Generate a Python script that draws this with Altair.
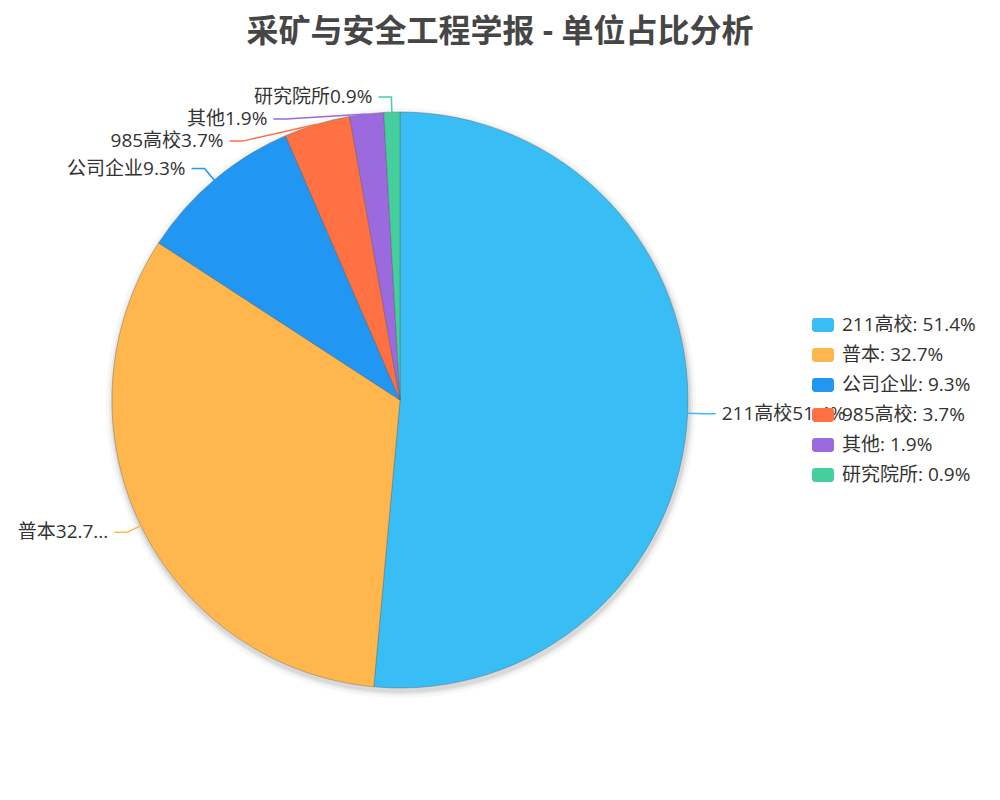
import altair as alt
import pandas as pd
import numpy as np

categories = ["211高校", "普本", "公司企业", "985高校", "其他", "研究院所"]
shares = [51.4, 32.7, 9.3, 3.7, 1.9, 0.9]
colors = ["#38BDF5", "#FFB74D", "#2196F3", "#FF7043", "#9B6ADE", "#45CF9D"]
title_text = "采矿与安全工程学报 - 单位占比分析"

FONT = "Open Sans, Noto Sans CJK SC"
FS = 19
W, H = 984, 718
PAD_TOP = 66
CX, CY = 392, 326
R = 288
R1 = R + 15
L2 = 13
GAP = 6
MIN_DY = 22
LEFT_EDGE = 8


def est_width(s, fs=FS):
    w = 0.0
    for ch in s:
        if ord(ch) > 0x2E80:
            w += 1.0
        elif ch == "%":
            w += 0.9
        elif ch in ".: ":
            w += 0.3
        else:
            w += 0.6
    return w * fs


total = sum(shares)
cum = np.cumsum([0] + shares[:-1])
mid = [(c + s / 2) / total * 2 * np.pi for c, s in zip(cum, shares)]

rows = []
for i, (cat, s, a) in enumerate(zip(categories, shares, mid)):
    side = "right" if np.sin(a) >= 0 else "left"
    rows.append(dict(idx=i, cat=cat, share=s, side=side,
                     x0=CX + R * np.sin(a), y0=CY - R * np.cos(a),
                     x1=CX + R1 * np.sin(a), y1=CY - R1 * np.cos(a)))

for side in ["left", "right"]:
    grp = sorted([r for r in rows if r["side"] == side], key=lambda r: r["y1"])
    prev = None
    for r in grp:
        if prev is not None and r["y1"] < prev + MIN_DY:
            r["y1"] = prev + MIN_DY
            dy = r["y1"] - CY
            dx = np.sqrt(max(R1 ** 2 - dy ** 2, 0))
            r["x1"] = CX + dx if side == "right" else CX - dx
        prev = r["y1"]

for r in rows:
    sg = 1 if r["side"] == "right" else -1
    r["x2"] = r["x1"] + sg * L2
    r["tx"] = r["x2"] + sg * GAP
    full = f"{r['cat']}{r['share']}%"
    avail = (r["tx"] - LEFT_EDGE) if sg < 0 else 1e9
    r["label"] = full if est_width(full) <= avail else full[:-1] + "..."
    r["legend"] = f"{r['cat']}: {r['share']}%"

legend_labels = [f"{c}: {s}%" for c, s in zip(categories, shares)]
slices = pd.DataFrame({"idx": range(len(categories)), "legend": legend_labels, "share": shares})
labels = pd.DataFrame(rows)

pts = []
for r in rows:
    for k, (x, y) in enumerate([(r["x0"], r["y0"]), (r["x1"], r["y1"]), (r["x2"], r["y1"])]):
        pts.append(dict(legend=r["legend"], k=k, x=x, y=y))
lines = pd.DataFrame(pts)

sym = ("M-0.727,-0.636 H0.727 A0.273,0.273 0 0 1 1,-0.364 V0.364 A0.273,0.273 0 0 1 0.727,0.636 "
       "H-0.727 A0.273,0.273 0 0 1 -1,0.364 V-0.364 A0.273,0.273 0 0 1 -0.727,-0.636 Z")

color_scale = alt.Scale(domain=legend_labels, range=colors)
xs = alt.Scale(domain=[0, W], nice=False, zero=False)
ys = alt.Scale(domain=[0, H], nice=False, zero=False, reverse=True)


def shadow_layer(extra, op):
    return alt.Chart(slices).mark_arc(radius=R + extra, color="#000000", opacity=op).encode(
        theta=alt.Theta("share:Q", stack=True), order=alt.Order("idx:Q"),
        x=alt.value(CX + 1), y=alt.value(CY + 3))


arcs = alt.Chart(slices).mark_arc(radius=R, stroke="#555555", strokeWidth=0.6, strokeOpacity=0.6).encode(
    theta=alt.Theta("share:Q", stack=True),
    order=alt.Order("idx:Q"),
    color=alt.Color("legend:N", scale=color_scale, sort=legend_labels,
                    legend=alt.Legend(orient="none", legendX=804, legendY=240, title=None,
                                      labelFont=FONT, labelFontSize=FS, labelColor="#333333",
                                      symbolType=sym, symbolSize=484, symbolStrokeWidth=0,
                                      symbolOpacity=1, rowPadding=9, labelOffset=8)),
    x=alt.value(CX), y=alt.value(CY))

leader = alt.Chart(lines).mark_line(strokeWidth=1.5).encode(
    x=alt.X("x:Q", scale=xs, axis=None),
    y=alt.Y("y:Q", scale=ys, axis=None),
    detail="legend:N", order="k:Q",
    color=alt.Color("legend:N", scale=color_scale, legend=None))

txt_r = alt.Chart(labels).transform_filter(alt.datum.side == "right").mark_text(
    align="left", baseline="middle", font=FONT, fontSize=FS, color="#333333").encode(
    x=alt.X("tx:Q", scale=xs, axis=None), y=alt.Y("y1:Q", scale=ys, axis=None), text="label:N")

txt_l = alt.Chart(labels).transform_filter(alt.datum.side == "left").mark_text(
    align="right", baseline="middle", font=FONT, fontSize=FS, color="#333333").encode(
    x=alt.X("tx:Q", scale=xs, axis=None), y=alt.Y("y1:Q", scale=ys, axis=None), text="label:N")

chart = alt.layer(shadow_layer(7, 0.03), shadow_layer(4, 0.05), shadow_layer(2, 0.07),
                  arcs, leader, txt_r, txt_l).properties(
    width=W, height=H,
    autosize="none",
    padding={"top": PAD_TOP, "left": 0, "right": 0, "bottom": 0},
    title=alt.Title(title_text, fontSize=32, font=FONT, fontWeight="bold", color="#464646",
                    anchor="middle", offset=25),
).configure_view(stroke=None)

chart.save("out.html", embed_options={"renderer": "svg", "actions": False})
